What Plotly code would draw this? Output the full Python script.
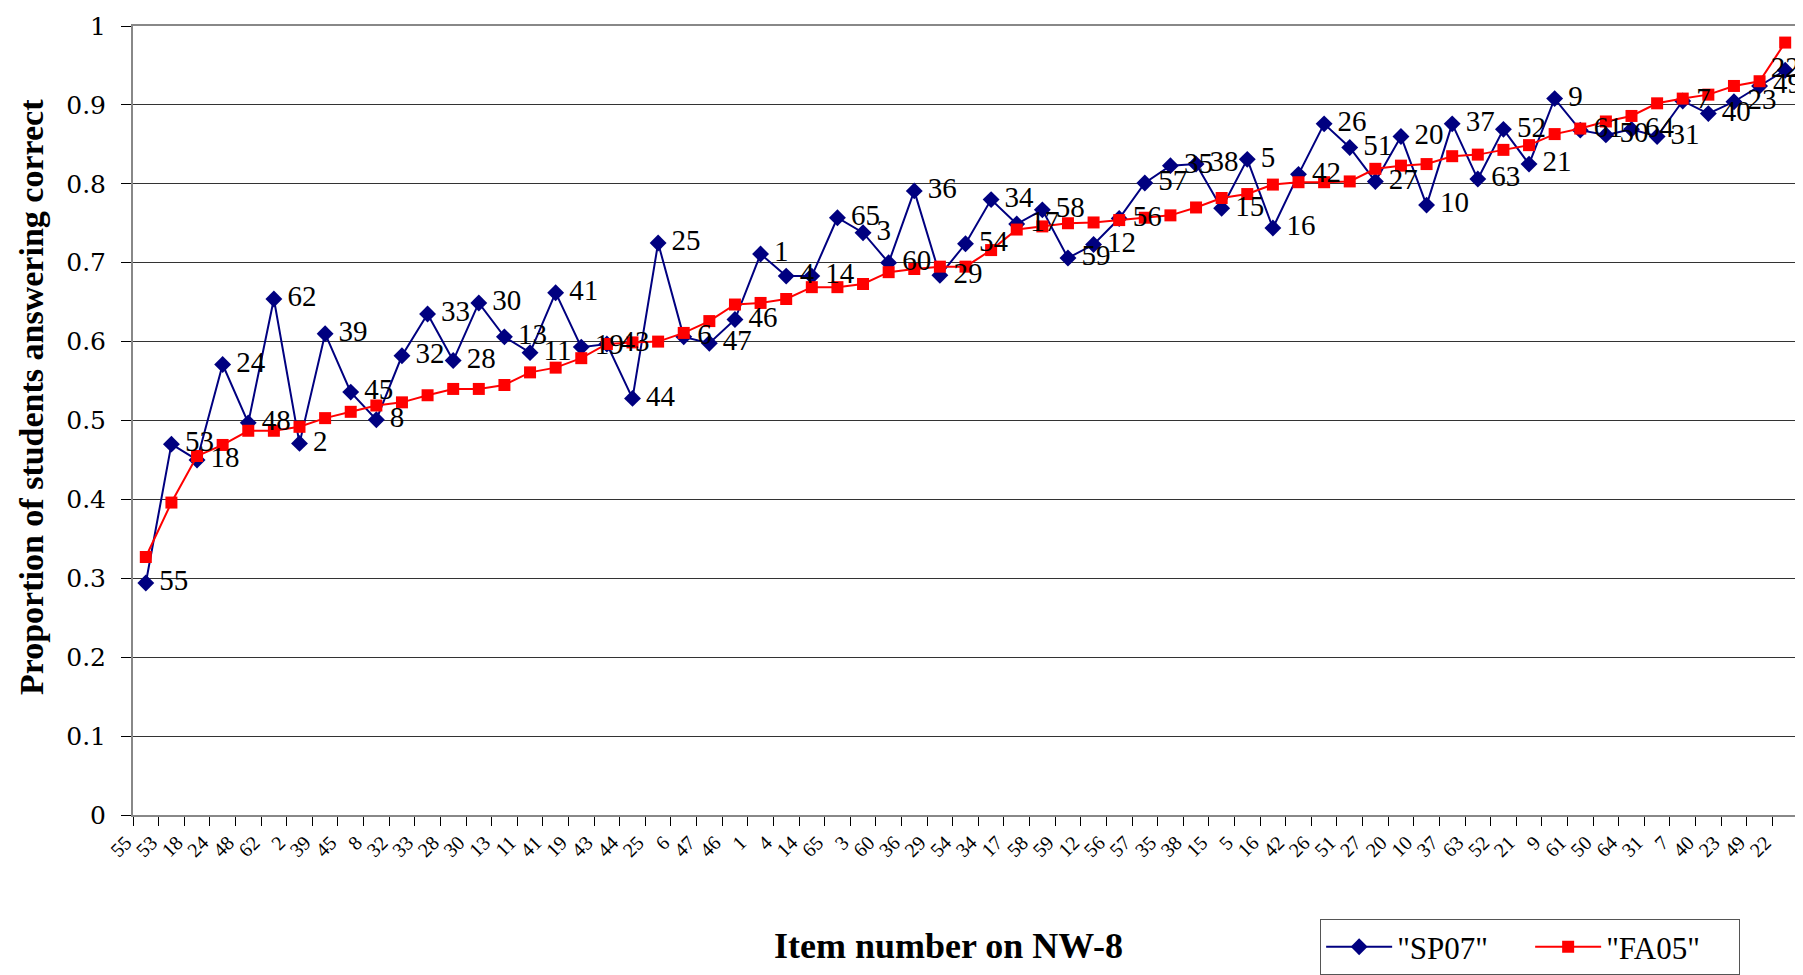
import plotly.graph_objects as go

items = ["55", "53", "18", "24", "48", "62", "2", "39", "45", "8", "32", "33", "28", "30", "13",
         "11", "41", "19", "43", "44", "25", "6", "47", "46", "1", "4", "14", "65", "3", "60",
         "36", "29", "54", "34", "17", "58", "59", "12", "56", "57", "35", "38", "15", "5", "16",
         "42", "26", "51", "27", "20", "10", "37", "63", "52", "21", "9", "61", "50", "64", "31",
         "7", "40", "23", "49", "22"]

sp07 = [0.294, 0.470, 0.450, 0.571, 0.497, 0.654, 0.471, 0.610, 0.536, 0.501, 0.582, 0.635,
        0.576, 0.649, 0.606, 0.586, 0.662, 0.593, 0.597, 0.528, 0.725, 0.606, 0.598, 0.628,
        0.711, 0.683, 0.683, 0.757, 0.738, 0.700, 0.791, 0.684, 0.724, 0.780, 0.749, 0.767,
        0.706, 0.723, 0.756, 0.801, 0.823, 0.825, 0.769, 0.831, 0.744, 0.812, 0.876, 0.846,
        0.803, 0.860, 0.773, 0.876, 0.806, 0.869, 0.825, 0.908, 0.868, 0.862, 0.869, 0.860,
        0.905, 0.889, 0.904, 0.924, 0.944]

fa05 = [0.327, 0.396, 0.455, 0.469, 0.487, 0.487, 0.492, 0.503, 0.511, 0.519, 0.523, 0.532,
        0.540, 0.540, 0.545, 0.561, 0.567, 0.579, 0.597, 0.599, 0.600, 0.611, 0.626, 0.647,
        0.649, 0.654, 0.669, 0.669, 0.673, 0.688, 0.692, 0.695, 0.695, 0.716, 0.742, 0.746,
        0.750, 0.751, 0.754, 0.757, 0.760, 0.770, 0.782, 0.787, 0.799, 0.802, 0.802, 0.803,
        0.819, 0.823, 0.825, 0.835, 0.837, 0.843, 0.849, 0.863, 0.870, 0.879, 0.886, 0.902,
        0.908, 0.913, 0.924, 0.930, 0.979]

y_ticks = [0, 0.1, 0.2, 0.3, 0.4, 0.5, 0.6, 0.7, 0.8, 0.9, 1]
y_tick_text = ["0", "0.1", "0.2", "0.3", "0.4", "0.5", "0.6", "0.7", "0.8", "0.9", "1"]

serif = "Liberation Serif, Times New Roman, serif"

# label placement: right of the point, except the last one which sits on it (chart edge)
label_pos = ["middle right"] * (len(items) - 1) + ["middle center"]

fig = go.Figure()
fig.add_trace(go.Scatter(
    x=items, y=sp07, mode="lines+markers", name='"SP07"',
    line=dict(color="#000080", width=2),
    marker=dict(symbol="diamond", size=13, color="#000080"),
))
fig.add_trace(go.Scatter(
    x=items, y=fa05, mode="lines+markers", name='"FA05"',
    line=dict(color="#FF0000", width=2),
    marker=dict(symbol="square", size=12, color="#FF0000"),
))
fig.add_trace(go.Scatter(
    x=items, y=sp07, mode="markers+text", text=items, textposition=label_pos,
    marker=dict(size=20, opacity=0),
    textfont=dict(family=serif, size=29, color="black"),
    showlegend=False, hoverinfo="skip", cliponaxis=False,
))

fig.add_annotation(
    text="<b>Proportion of students answering correct</b>", textangle=-90,
    xref="paper", yref="paper", x=-0.0605, y=0.53, xanchor="center", yanchor="middle",
    showarrow=False, font=dict(family=serif, size=34, color="black"),
)
fig.add_annotation(
    text="<b>Item number on NW-8</b>",
    xref="paper", yref="paper", x=0.490, y=-0.166, xanchor="center", yanchor="middle",
    showarrow=False, font=dict(family=serif, size=36, color="black"),
)

fig.update_layout(
    width=1803, height=975,
    margin=dict(l=125, r=13, t=18, b=168, autoexpand=False),
    paper_bgcolor="white", plot_bgcolor="white",
    font=dict(family=serif, color="black"),
    showlegend=True,
    legend=dict(
        orientation="h", x=0.713, y=-0.132, xanchor="left", yanchor="top",
        bordercolor="#555555", borderwidth=1, font=dict(family=serif, size=31),
        entrywidth=128, itemwidth=66, tracegroupgap=0,
    ),
    xaxis=dict(
        type="category", range=[-0.5, len(items) - 0.5],
        tickson="boundaries", ticks="outside", ticklen=9, tickcolor="black",
        tickangle=-45, tickfont=dict(family=serif, size=20),
        ticklabelshift=-20, ticklabelstandoff=6,
        showgrid=False, showline=True, linecolor="#888888", linewidth=2, mirror=True,
    ),
    yaxis=dict(
        range=[0, 1], tickvals=y_ticks, ticktext=y_tick_text,
        ticks="outside", ticklen=10, tickcolor="black",
        tickfont=dict(family="DejaVu Serif, serif", size=25),
        ticklabelstandoff=10,
        showgrid=True, gridcolor="#333333", gridwidth=1,
        showline=True, linecolor="#888888", linewidth=2, mirror=True,
        zeroline=False,
    ),
)

fig.write_html("out.html")
